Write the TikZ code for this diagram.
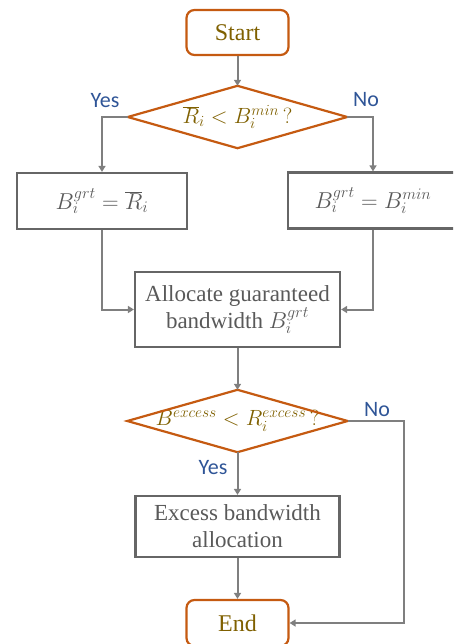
\documentclass[tikz,border=0pt]{standalone}
\usepackage{fix-cm}
\usepackage{fontspec}
\setmainfont{Liberation Serif}
\newfontfamily\lblfont{Carlito}
\usetikzlibrary{arrows.meta}
\definecolor{orng}{HTML}{C55A11}
\definecolor{olive}{HTML}{7F6000}
\definecolor{lgray}{HTML}{7F7F7F}
\definecolor{bgray}{HTML}{666666}
\definecolor{tgray}{HTML}{595959}
\definecolor{lblue}{HTML}{2F5597}
\tikzset{
  termbox/.style={draw=orng, line width=2.2pt, rounded corners=8pt, inner sep=0pt,
    minimum width=102pt, minimum height=45pt, text=olive, font=\fontsize{24}{28}\selectfont},
  procbox/.style={draw=bgray, line width=2.2pt, inner sep=0pt, text=tgray, align=center,
    font=\fontsize{23}{28}\selectfont},
  decbox/.style={inner sep=0pt, text=olive, minimum width=219pt, minimum height=62pt,
    font=\fontsize{22}{25}\selectfont},
  decline/.style={draw=orng, line width=2.2pt, line join=miter},
  conn/.style={draw=lgray, line width=2pt, -{Triangle[width=7pt,length=6pt]}},
  lbl/.style={text=lblue, font=\lblfont\fontsize{22}{26}\selectfont, inner sep=0pt}
}
\begin{document}
\begin{tikzpicture}[x=1pt,y=-1pt]
\useasboundingbox (0,0) rectangle (453,644);
\clip (0,0) rectangle (453,644);
\node[termbox] (start) at (237.5,32.5) {Start};
\node[decbox] (d1) at (237.5,117) {$\overline{R}_i < B_i^{min}\,?$};
\draw[decline] (d1.west) -- (d1.north) -- (d1.east) -- (d1.south) -- cycle;
\node[procbox, minimum width=170pt, minimum height=56pt] (b1) at (102,201) {$B_i^{grt} = \overline{R}_i$};
\node[procbox, minimum width=176pt, minimum height=56pt] (b2) at (376,200.5) {\hspace*{-6pt}$B_i^{grt} = B_i^{min}$};
\node[procbox, minimum width=205pt, minimum height=75pt] (alloc) at (237.5,309.5) {Allocate guaranteed\\[-1pt]bandwidth $B_i^{grt}$};
\node[decbox, minimum width=220pt] (d2) at (237.5,421) {$B^{excess} < R_i^{excess}\,?$};
\draw[decline] (d2.west) -- (d2.north) -- (d2.east) -- (d2.south) -- cycle;
\node[procbox, minimum width=204pt, minimum height=61pt] (excess) at (237.5,526.5) {Excess bandwidth\\[-1pt]allocation};
\node[termbox, minimum height=46pt] (end) at (237.5,623) {End};
\coordinate (turn) at (404,421);
\node[lbl] (yes1) at (105,101) {Yes};
\node[lbl] (no1) at (366,100) {No};
\node[lbl] (no2) at (377,410) {No};
\node[lbl] (yes2) at (213,468) {Yes};
\draw[conn] (start.south) -- (d1.north);
\draw[conn] (d1.west) -| (b1.north);
\draw[conn] (d1.east) -| (b2.north -| 373,0);
\draw[conn] (b1.south) |- (alloc.west);
\draw[conn] (b2.south -| 373,0) |- (alloc.east);
\draw[conn] (alloc.south) -- (d2.north);
\draw[conn] (d2.south) -- (excess.north);
\draw[conn] (excess.south) -- (end.north);
\draw[conn] (d2.east) -- (turn) |- (end.east);
\end{tikzpicture}
\end{document}
